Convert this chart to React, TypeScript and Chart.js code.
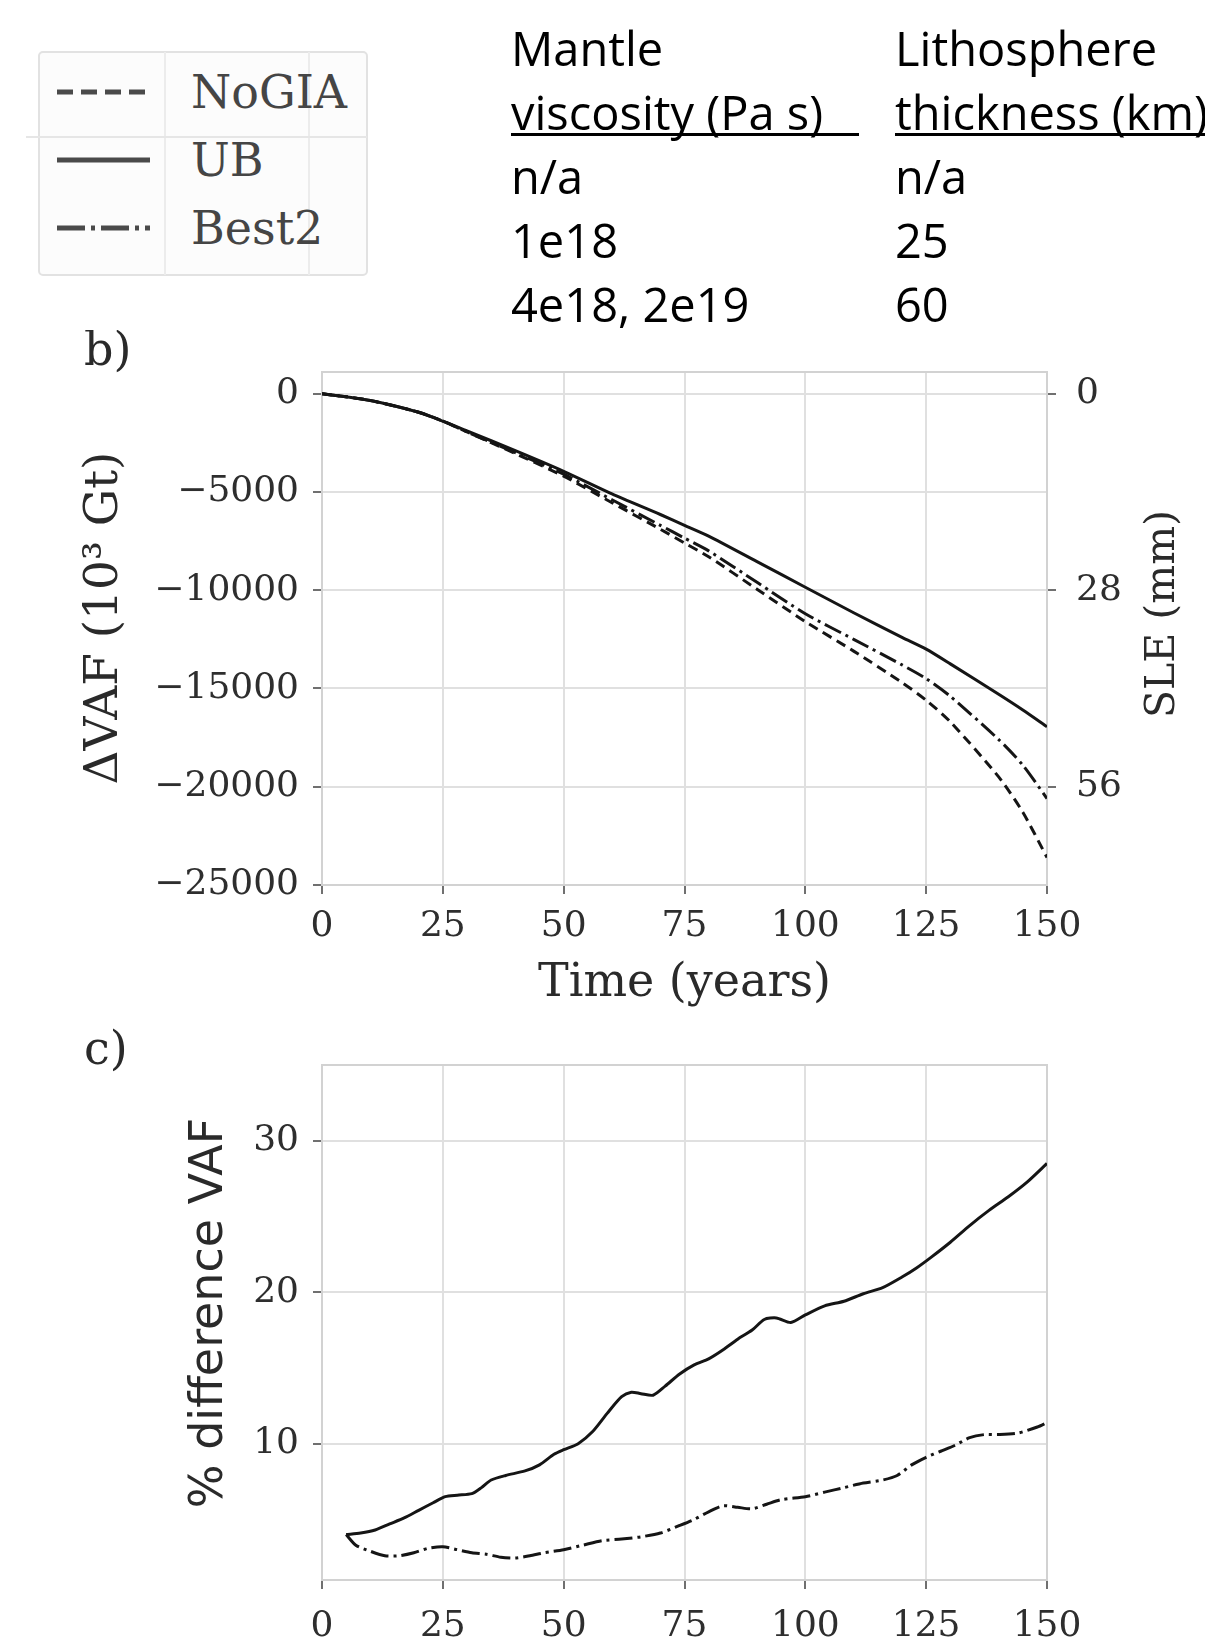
import React, { useEffect, useRef } from 'react';
import { Chart, registerables } from 'chart.js';

Chart.register(...registerables);

// ---------- Panel b: change in volume above floatation ----------
const B_YEARS = [0, 10, 20, 25, 30, 40, 50, 60, 70, 75, 80, 90, 100, 110, 120, 125, 130, 140, 145, 150];
const B_NOGIA = [0, -350, -950, -1400, -1950, -3050, -4200, -5550, -6900, -7600, -8300, -9950, -11600, -13100, -14700, -15600, -16700, -19500, -21300, -23600];
const B_UB = [0, -350, -950, -1400, -1900, -2900, -3950, -5100, -6150, -6700, -7250, -8550, -9850, -11150, -12400, -13000, -13750, -15300, -16100, -16950];
const B_BEST2 = [0, -350, -950, -1400, -1950, -3000, -4100, -5400, -6700, -7350, -8000, -9600, -11200, -12500, -13800, -14500, -15400, -17600, -18900, -20600];
const B_Y_TICKS = [0, -5000, -10000, -15000, -20000, -25000];
const SLE_TICKS = [0, 28, 56];
const X_TICKS = [0, 25, 50, 75, 100, 125, 150];

// ---------- Panel c: % difference VAF ----------
const C_UB_YEARS = [5, 8, 11, 14, 17, 20, 23, 25.5, 28, 31, 33, 35, 38, 42, 45, 48, 50, 53, 56, 59, 62, 64, 66, 68.5, 71, 74, 77, 80, 83, 86, 89, 91.5, 94, 97, 100, 104, 108, 112, 116, 120, 123, 126, 130, 134, 138, 142, 146, 150];
const C_UB = [4.0, 4.1, 4.3, 4.7, 5.1, 5.6, 6.1, 6.5, 6.6, 6.7, 7.1, 7.6, 7.9, 8.2, 8.6, 9.3, 9.6, 10.0, 10.8, 12.0, 13.1, 13.4, 13.3, 13.2, 13.8, 14.6, 15.2, 15.6, 16.2, 16.9, 17.5, 18.2, 18.3, 18.0, 18.5, 19.1, 19.4, 19.9, 20.3, 21.0, 21.6, 22.3, 23.3, 24.4, 25.4, 26.3, 27.3, 28.5];
const C_BEST2_YEARS = [5, 7, 10, 13, 16, 19, 22, 25, 28, 31, 34, 37, 40, 43, 46, 50, 54, 58, 62, 66, 70, 74, 77, 80, 83, 86, 89, 92, 95, 100, 104, 108, 112, 116, 119, 122, 125, 128, 131, 134, 137, 140, 144, 148, 150];
const C_BEST2 = [4.0, 3.3, 2.9, 2.6, 2.6, 2.8, 3.1, 3.2, 3.0, 2.8, 2.7, 2.5, 2.45, 2.6, 2.8, 3.0, 3.3, 3.6, 3.7, 3.85, 4.1, 4.6, 5.0, 5.5, 5.9, 5.8, 5.7, 6.0, 6.3, 6.5, 6.8, 7.1, 7.4, 7.6, 7.9, 8.6, 9.1, 9.5, 9.9, 10.4, 10.6, 10.6, 10.7, 11.1, 11.4];
const C_Y_TICKS = [10, 20, 30];

const SERIF = "'DejaVu Serif', serif";
const SANS = "'DejaVu Sans', sans-serif";
const GRID = '#e0e0e0';
const FRAME = '#d2d2d2';
const TICK = '#707070';
const LABEL = '#2e2e2e';
const TITLE = '#2a2a2a';
const LINE = '#151515';

const fmt = (v: number) => (v < 0 ? '\u2212' + Math.abs(v) : String(v));
const pts = (xs: number[], ys: number[]) => xs.map((x, i) => ({ x, y: ys[i] }));

const drawVertical = (ctx: CanvasRenderingContext2D, text: string, x: number, y: number, font: string) => {
  ctx.save();
  ctx.translate(x, y);
  ctx.rotate(-Math.PI / 2);
  ctx.textAlign = 'center';
  ctx.textBaseline = 'middle';
  ctx.font = font;
  ctx.fillText(text, 0, 0);
  ctx.restore();
};

const panelPlugin = {
  id: 'panel',
  beforeDatasetsDraw(chart: any) {
    const { ctx, chartArea: a } = chart;
    ctx.save();
    ctx.strokeStyle = FRAME;
    ctx.lineWidth = 2;
    ctx.strokeRect(a.left, a.top, a.right - a.left, a.bottom - a.top);
    ctx.restore();
  },
  afterDraw(chart: any, _a: any, opts: any) {
    const { ctx } = chart;
    ctx.save();
    ctx.fillStyle = TITLE;
    ctx.textBaseline = 'middle';
    ctx.textAlign = 'left';
    ctx.font = `46px ${SERIF}`;
    if (opts.label) ctx.fillText(opts.label, opts.labelX, opts.labelY);
    if (opts.leftTitle) drawVertical(ctx, opts.leftTitle, opts.leftTitleX, opts.leftTitleY, opts.leftTitleFont);
    if (opts.rightTitle) drawVertical(ctx, opts.rightTitle, opts.rightTitleX, opts.rightTitleY, opts.rightTitleFont);
    ctx.restore();
  },
};

const gridOpts = { color: GRID, lineWidth: 2, tickColor: TICK, tickWidth: 2, tickLength: 9 };

export default function App() {
  const bRef = useRef<HTMLCanvasElement>(null);
  const cRef = useRef<HTMLCanvasElement>(null);

  useEffect(() => {
    Chart.defaults.font.family = SERIF;
    const lineDs = (label: string, data: any, dash: number[]) => ({
      label,
      data,
      borderColor: LINE,
      borderWidth: 3,
      borderDash: dash,
      pointRadius: 0,
      tension: 0.25,
      fill: false,
    });

    const xScale = (height: number, padding: number, withTitle: boolean) => ({
      type: 'linear',
      min: 0,
      max: 150,
      afterBuildTicks: (s: any) => { s.ticks = X_TICKS.map((v) => ({ value: v })); },
      afterFit: (s: any) => { s.height = height; },
      grid: gridOpts,
      border: { display: false },
      ticks: { color: LABEL, font: { size: 36, family: SERIF }, padding, maxRotation: 0 },
      title: withTitle
        ? { display: true, text: 'Time (years)', color: TITLE, font: { size: 46, family: SERIF }, padding: { top: 0, bottom: 8 } }
        : { display: false },
    });

    const chartB = new Chart(bRef.current as HTMLCanvasElement, {
      type: 'line',
      data: {
        datasets: [
          lineDs('NoGIA', pts(B_YEARS, B_NOGIA), [10, 6]),
          lineDs('Best2', pts(B_YEARS, B_BEST2), [18, 5, 3, 5]),
          lineDs('UB', pts(B_YEARS, B_UB), []),
        ],
      },
      options: {
        responsive: false,
        animation: false,
        layout: { padding: { top: 42, left: 0, right: 0, bottom: 0 } },
        plugins: {
          legend: { display: false },
          tooltip: { enabled: false },
          panel: {
            label: 'b)', labelX: 84, labelY: 23,
            leftTitle: '\u0394VAF (10\u00b3 Gt)', leftTitleX: 105, leftTitleY: 288, leftTitleFont: `47px ${SERIF}`,
            rightTitle: 'SLE (mm)', rightTitleX: 1163, rightTitleY: 284, rightTitleFont: `41px ${SERIF}`,
          },
        } as any,
        scales: {
          x: xScale(135, 11, true) as any,
          y: {
            position: 'left',
            min: -25000,
            max: 1100,
            afterBuildTicks: (s: any) => { s.ticks = B_Y_TICKS.map((v) => ({ value: v })); },
            afterFit: (s: any) => { s.width = 322; },
            grid: gridOpts,
            border: { display: false },
            ticks: { color: LABEL, font: { size: 36, family: SERIF }, padding: 14, callback: (v: any) => fmt(Number(v)) },
          },
          y2: {
            position: 'right',
            min: -3.08,
            max: 70,
            reverse: true,
            afterBuildTicks: (s: any) => { s.ticks = SLE_TICKS.map((v) => ({ value: v })); },
            afterFit: (s: any) => { s.width = 158; },
            grid: { ...gridOpts, drawOnChartArea: false },
            border: { display: false },
            ticks: { color: LABEL, font: { size: 36, family: SERIF }, padding: 20 },
          },
        } as any,
      },
      plugins: [panelPlugin as any],
    });

    const chartC = new Chart(cRef.current as HTMLCanvasElement, {
      type: 'line',
      data: {
        datasets: [
          lineDs('Best2', pts(C_BEST2_YEARS, C_BEST2), [18, 5, 3, 5]),
          lineDs('UB', pts(C_UB_YEARS, C_UB), []),
        ],
      },
      options: {
        responsive: false,
        animation: false,
        layout: { padding: { top: 45, left: 0, right: 158, bottom: 0 } },
        plugins: {
          legend: { display: false },
          tooltip: { enabled: false },
          panel: {
            label: 'c)', labelX: 84, labelY: 32,
            leftTitle: '% difference VAF', leftTitleX: 210, leftTitleY: 293, leftTitleFont: `46px ${SANS}`,
          },
        } as any,
        scales: {
          x: xScale(66, 16, false) as any,
          y: {
            position: 'left',
            min: 1,
            max: 35,
            afterBuildTicks: (s: any) => { s.ticks = C_Y_TICKS.map((v) => ({ value: v })); },
            afterFit: (s: any) => { s.width = 322; },
            grid: gridOpts,
            border: { display: false },
            ticks: { color: LABEL, font: { size: 36, family: SERIF }, padding: 14 },
          },
        } as any,
      },
      plugins: [panelPlugin as any],
    });

    return () => {
      chartB.destroy();
      chartC.destroy();
    };
  }, []);

  const tableFont: React.CSSProperties = {
    position: 'absolute',
    fontFamily: "'Open Sans', sans-serif",
    fontSize: 47,
    lineHeight: '64px',
    color: '#000',
    whiteSpace: 'pre',
  };

  return (
    <div style={{ position: 'absolute', left: 0, top: 0, width: 1205, height: 1646, background: '#fff', overflow: 'hidden' }}>
      <canvas ref={bRef} width={1205} height={690} style={{ position: 'absolute', left: 0, top: 330 }} />
      <canvas ref={cRef} width={1205} height={626} style={{ position: 'absolute', left: 0, top: 1020 }} />

      <svg width={400} height={300} style={{ position: 'absolute', left: 0, top: 0 }}>
        <rect x={39} y={52} width={328} height={223} rx={4} fill="#fcfcfc" stroke="#e2e2e2" strokeWidth={2} />
        <line x1={165} y1={52} x2={165} y2={275} stroke="#ececec" strokeWidth={2} />
        <line x1={309} y1={52} x2={309} y2={275} stroke="#ececec" strokeWidth={2} />
        <line x1={26} y1={137} x2={367} y2={137} stroke="#e6e6e6" strokeWidth={2} />
        <line x1={57} y1={92} x2={150} y2={92} stroke="#4a4a4a" strokeWidth={5} strokeDasharray="16 8" />
        <line x1={57} y1={160} x2={150} y2={160} stroke="#4a4a4a" strokeWidth={5} />
        <line x1={57} y1={228} x2={150} y2={228} stroke="#4a4a4a" strokeWidth={5} strokeDasharray="28 6 4 6" />
        <g fontFamily={SERIF} fontSize={46} fill="#454545" dominantBaseline="central">
          <text x={191} y={92}>NoGIA</text>
          <text x={191} y={160}>UB</text>
          <text x={191} y={228}>Best2</text>
        </g>
      </svg>

      <div style={{ ...tableFont, left: 511, top: 16 }}>
        {'Mantle\nviscosity (Pa s)\nn/a\n1e18\n4e18, 2e19'}
      </div>
      <div style={{ ...tableFont, left: 895, top: 16 }}>
        {'Lithosphere\nthickness (km)\nn/a\n25\n60'}
      </div>
      <div style={{ position: 'absolute', left: 511, top: 133, width: 348, height: 3, background: '#000' }} />
      <div style={{ position: 'absolute', left: 895, top: 133, width: 310, height: 3, background: '#000' }} />
    </div>
  );
}
